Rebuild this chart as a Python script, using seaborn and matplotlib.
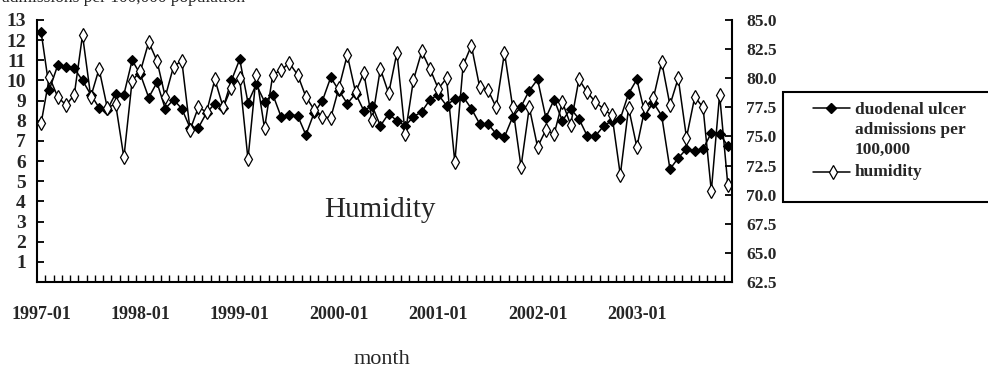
import numpy as np
import pandas as pd
import matplotlib
matplotlib.use("Agg")
import matplotlib.pyplot as plt
from matplotlib.lines import Line2D
from matplotlib.patches import Rectangle
import seaborn as sns

# ---------------- data ----------------
months = [f"{y}-{m:02d}" for y in range(1997, 2004) for m in range(1, 13)]

ulcer = [12.4, 9.55, 10.75, 10.65, 10.6, 10.0, 9.3, 8.65, 8.55, 9.35, 9.3, 11.0,
         10.3, 9.15, 9.9, 8.6, 9.05, 8.6, 7.65, 7.65, 8.4, 8.85, 8.65, 10.0,
         11.05, 8.9, 9.8, 8.95, 9.3, 8.2, 8.3, 8.25, 7.3, 8.4, 9.0, 10.15,
         9.5, 8.85, 9.35, 8.5, 8.75, 7.75, 8.35, 8.0, 7.75, 8.2, 8.45, 9.05,
         9.3, 8.75, 9.1, 9.2, 8.6, 7.85, 7.85, 7.35, 7.2, 8.2, 8.7, 9.5,
         10.05, 8.15, 9.05, 8.0, 8.6, 8.1, 7.25, 7.25, 7.75, 8.0, 8.1, 9.35,
         10.05, 8.3, 8.9, 8.25, 5.6, 6.15, 6.6, 6.5, 6.6, 7.4, 7.35, 6.75]

humidity = [76.15, 80.1, 78.4, 77.7, 78.55, 83.7, 78.4, 80.8, 77.45, 77.8, 73.2, 79.8,
            80.6, 83.1, 81.5, 78.4, 81.0, 81.5, 75.55, 77.5, 77.1, 79.9, 77.5, 79.2,
            80.0, 73.05, 80.3, 75.7, 80.3, 80.7, 81.3, 80.3, 78.4, 77.3, 76.7, 76.6,
            79.2, 82.0, 78.8, 80.45, 76.4, 80.8, 78.7, 82.2, 75.2, 79.85, 82.3, 80.8,
            79.1, 80.0, 72.8, 81.1, 82.8, 79.25, 79.0, 77.5, 82.2, 77.5, 72.4, 77.5,
            74.1, 75.55, 75.2, 77.95, 76.0, 79.9, 78.8, 77.95, 77.35, 76.8, 71.7, 77.45,
            74.1, 77.5, 78.3, 81.4, 77.7, 80.0, 74.9, 78.4, 77.5, 70.3, 78.6, 70.8]

year_labels = ["1997-01", "1998-01", "1999-01", "2000-01", "2001-01", "2002-01", "2003-01"]
left_ticks = list(range(1, 14))
right_ticks = [62.5, 65.0, 67.5, 70.0, 72.5, 75.0, 77.5, 80.0, 82.5, 85.0]

series_ulcer = "duodenal ulcer\nadmissions per\n100,000"
series_hum = "humidity"

df = pd.DataFrame({"month": months, "idx": np.arange(len(months)),
                   "ulcer": ulcer, "humidity": humidity})

# ---------------- style ----------------
sns.set_theme(style="white")
plt.rcParams["font.family"] = ["Liberation Serif", "DejaVu Serif"]
plt.rcParams["font.weight"] = "bold"

W, H = 988, 369
fig = plt.figure(figsize=(W / 100, H / 100), dpi=100)
fig.patch.set_facecolor("white")

def fx(x):
    return x / W

def fy(y):
    return 1 - y / H

ax = fig.add_axes([fx(37), fy(282), (732 - 37) / W, (282 - 20) / H])
ax.set_facecolor("white")

sns.lineplot(data=df, x="idx", y="ulcer", ax=ax, color="black", linewidth=1.1,
             marker="D", markersize=5.3, markerfacecolor="black",
             markeredgecolor="black", markeredgewidth=0.8, zorder=3)

ax2 = ax.twinx()
sns.lineplot(data=df, x="idx", y="humidity", ax=ax2, color="black", linewidth=1.1,
             marker="d", markersize=7.5, markerfacecolor="white",
             markeredgecolor="black", markeredgewidth=0.9, zorder=2)

# axes limits / ticks
ax.set_xlim(-0.5, len(months) - 0.5)
ax.set_ylim(0, 13)
ax2.set_ylim(62.5, 85.0)

ax.set_xticks(np.arange(0, len(months), 12))
ax.set_xticklabels(year_labels)
ax.set_xticks(np.arange(0.5, len(months) - 1, 1), minor=True)
ax.tick_params(axis="x", which="major", length=0, pad=17, labelsize=13)
ax.tick_params(axis="x", which="minor", direction="in", length=5, width=1.0,
               bottom=True, color="black")

ax.set_yticks(left_ticks)
ax.set_yticklabels([str(t) for t in left_ticks])
ax.tick_params(axis="y", direction="in", length=5, width=1.3, pad=8,
               labelsize=14, left=True, color="black")

ax2.set_yticks(right_ticks)
ax2.set_yticklabels([f"{t:.1f}" for t in right_ticks])
ax2.tick_params(axis="y", direction="in", length=5, width=1.3, pad=10,
                labelsize=12.5, right=True, color="black")

for a in (ax, ax2):
    a.set_xlabel("")
    a.set_ylabel("")
    a.grid(False)
    a.spines["top"].set_visible(False)
    for s in a.spines.values():
        s.set_color("black")
        s.set_linewidth(1.5)
ax.spines["right"].set_visible(False)
ax2.spines["left"].set_visible(False)
ax2.spines["bottom"].set_visible(False)

# ---------------- texts ----------------
fig.text(fx(380), fy(210), "Humidity", ha="center", va="center",
         fontsize=21, fontweight="normal")
fig.text(fx(382), fy(360), "month", ha="center", va="center",
         fontsize=16, fontweight="normal")
# y-axis title, clipped by the top edge as in the reference
fig.text(fx(2), fy(1.5), "admissions per 100,000 population", ha="left",
         va="baseline", fontsize=12.5, fontweight="normal")

# ---------------- legend (manual box) ----------------
fig.add_artist(Rectangle((fx(783), fy(202)), (1000 - 783) / W, (202 - 92) / H,
                         transform=fig.transFigure, facecolor="white",
                         edgecolor="black", linewidth=1.5, zorder=5))
fig.add_artist(Line2D([fx(813), fx(850)], [fy(108), fy(108)], color="black",
                      linewidth=1.1, transform=fig.transFigure, zorder=6))
fig.add_artist(Line2D([fx(831)], [fy(108)], color="black", marker="D",
                      markersize=5.3, markerfacecolor="black",
                      markeredgecolor="black", linestyle="none",
                      transform=fig.transFigure, zorder=7))
fig.add_artist(Line2D([fx(813), fx(850)], [fy(172), fy(172)], color="black",
                      linewidth=1.1, transform=fig.transFigure, zorder=6))
fig.add_artist(Line2D([fx(833)], [fy(172)], color="black", marker="d",
                      markersize=7.5, markerfacecolor="white",
                      markeredgecolor="black", markeredgewidth=0.9,
                      linestyle="none", transform=fig.transFigure, zorder=7))
fig.text(fx(855), fy(130), series_ulcer, ha="left", va="center",
         fontsize=12.5, fontweight="bold", linespacing=1.3, zorder=8)
fig.text(fx(855), fy(172), series_hum, ha="left", va="center",
         fontsize=12.5, fontweight="bold", zorder=8)

fig.savefig("out.png", dpi=100, facecolor="white")
